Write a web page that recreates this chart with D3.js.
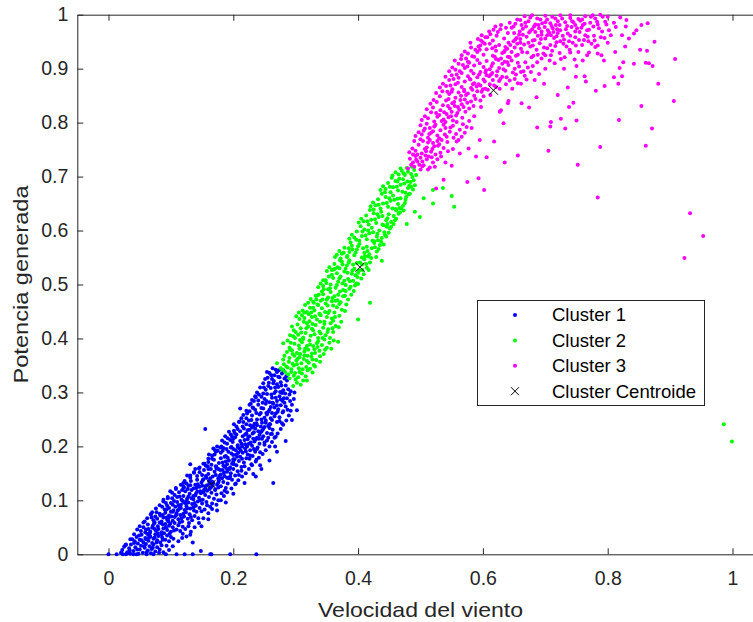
<!DOCTYPE html>
<html>
<head>
<meta charset="utf-8">
<script src="https://cdn.jsdelivr.net/npm/d3@7"></script>
<style>
  html, body { margin: 0; padding: 0; background: #fff; }
  svg { display: block; }
  text { font-family: "Liberation Sans", Arial, Helvetica, sans-serif; }
</style>
</head>
<body>
<div id="chart"></div>
<script>
// cluster 1 (blue)
const cluster1 = [
  [0,0],[.013,0],[.023,0],[.028,0],[.04,0],[.045,0],[.061,0],[.072,0],[.092,0],[.109,0],[.122,0],[.135,0],[.163,0],[.165,0],[.195,0],[.237,0],
  [.022,.008],[.025,.014],[.03,.004],[.033,.011],[.036,.018],[.04,.006],[.043,.013],[.047,.02],[.05,.009],[.052,.016],[.055,.003],[.058,.012],[.06,.019],[.063,.007],[.066,.015],[.069,.01],[.072,.018],[.075,.005],[.078,.013],[.082,.009],[.085,.017],[.03,.002],[.048,.001],[.068,.002],[.088,.004],
  [.042,.024],[.045,.032],[.05,.027],[.053,.036],[.056,.022],[.059,.03],[.062,.038],[.064,.025],[.067,.033],[.07,.021],[.072,.029],[.075,.037],[.078,.026],[.08,.034],[.083,.022],[.086,.031],[.089,.039],[.091,.027],[.094,.035],[.097,.024],[.1,.032],[.06,.028],[.074,.031],[.085,.036],[.066,.039],
  [.052,.043],[.056,.05],[.06,.046],[.063,.055],[.067,.042],[.07,.049],[.073,.057],[.076,.044],[.079,.052],[.082,.059],[.085,.041],[.088,.048],[.091,.056],[.094,.045],[.097,.053],[.1,.042],[.103,.05],[.106,.058],[.109,.046],[.112,.054],[.115,.043],[.119,.051],[.08,.047],[.092,.05],[.071,.053],[.099,.057],
  [.072,.063],[.075,.07],[.078,.066],[.082,.075],[.085,.061],[.088,.068],[.091,.077],[.094,.064],[.097,.072],[.1,.079],[.103,.062],[.106,.069],[.109,.076],[.112,.065],[.115,.073],[.118,.061],[.121,.07],[.124,.078],[.127,.066],[.13,.074],[.134,.063],[.138,.071],[.096,.067],[.108,.072],[.12,.075],[.087,.073],
  [.09,.083],[.094,.09],[.097,.086],[.1,.095],[.104,.081],[.107,.088],[.11,.097],[.113,.084],[.116,.092],[.119,.099],[.122,.082],[.125,.089],[.128,.096],[.131,.085],[.134,.093],[.137,.081],[.14,.09],[.143,.098],[.146,.086],[.15,.094],[.154,.083],[.158,.091],[.112,.091],[.124,.094],[.136,.087],[.103,.092],
  [.135,.022],[.148,.006],[.131,.036],[.118,.03],
  [.102,.104],[.106,.11],[.11,.106],[.113,.115],[.117,.101],[.12,.108],[.123,.117],[.126,.103],[.13,.112],[.133,.119],[.136,.102],[.139,.109],[.142,.116],[.145,.105],[.148,.113],[.151,.101],[.155,.11],[.158,.118],[.161,.106],[.165,.114],[.169,.103],[.173,.111],[.128,.107],[.14,.112],[.152,.115],
  [.121,.124],[.125,.131],[.128,.127],[.132,.136],[.136,.122],[.139,.129],[.142,.138],[.146,.125],[.149,.133],[.152,.139],[.155,.121],[.158,.128],[.161,.136],[.164,.124],[.168,.132],[.171,.12],[.174,.129],[.177,.137],[.18,.126],[.184,.134],[.188,.123],[.15,.127],[.162,.131],[.176,.124],[.143,.13],
  [.142,.145],[.146,.152],[.15,.147],[.153,.156],[.157,.142],[.16,.149],[.164,.158],[.167,.144],[.17,.153],[.173,.159],[.176,.141],[.18,.148],[.183,.156],[.186,.145],[.19,.153],[.193,.141],[.196,.15],[.2,.158],[.203,.146],[.207,.154],[.172,.147],[.185,.151],[.195,.144],
  [.156,.164],[.16,.171],[.165,.166],[.169,.175],[.173,.162],[.177,.169],[.18,.178],[.184,.164],[.188,.172],[.191,.179],[.195,.161],[.198,.168],[.202,.176],[.205,.165],[.209,.173],[.213,.162],[.217,.17],[.221,.178],[.19,.167],[.2,.172],[.183,.17],
  [.17,.185],[.175,.192],[.18,.188],[.184,.197],[.188,.182],[.192,.19],[.196,.198],[.2,.184],[.204,.193],[.207,.199],[.211,.181],[.215,.188],[.219,.196],[.223,.185],[.227,.193],[.231,.182],[.235,.19],[.239,.198],[.208,.188],[.22,.191],[.2,.195],
  [.19,.205],[.195,.212],[.199,.208],[.203,.217],[.207,.202],[.211,.21],[.215,.219],[.219,.204],[.223,.213],[.226,.219],[.23,.201],[.234,.209],[.238,.216],[.242,.205],[.246,.214],[.25,.203],[.254,.211],[.228,.207],[.236,.213],[.218,.212],
  [.202,.225],[.207,.232],[.211,.228],[.215,.237],[.219,.222],[.223,.23],[.227,.239],[.231,.224],[.235,.233],[.238,.239],[.242,.221],[.246,.229],[.25,.236],[.254,.225],[.258,.234],[.262,.223],[.24,.228],[.248,.232],[.23,.235],
  [.216,.245],[.221,.252],[.225,.248],[.23,.257],[.234,.242],[.238,.25],[.242,.259],[.246,.244],[.25,.253],[.254,.259],[.258,.241],[.262,.249],[.266,.256],[.27,.245],[.274,.254],[.278,.243],[.252,.248],[.26,.252],
  [.226,.265],[.231,.272],[.235,.268],[.24,.277],[.244,.262],[.248,.27],[.252,.279],[.256,.264],[.26,.273],[.264,.279],[.268,.261],[.272,.269],[.276,.276],[.28,.265],[.284,.274],[.258,.268],[.266,.272],
  [.24,.285],[.245,.292],[.25,.288],[.254,.297],[.258,.282],[.262,.29],[.266,.299],[.27,.284],[.274,.293],[.278,.299],[.282,.281],[.286,.289],[.29,.296],[.268,.29],[.276,.287],[.248,.298],
  [.252,.305],[.256,.312],[.26,.308],[.264,.317],[.268,.302],[.272,.31],[.276,.319],[.28,.304],[.284,.313],[.288,.306],[.292,.302],[.27,.315],
  [.262,.325],[.266,.332],[.27,.338],[.274,.328],[.278,.335],[.282,.326],[.268,.342],[.28,.341],[.286,.322],[.254,.338],[.272,.329],
  [.155,.232],[.131,.167],[.264,.132],[.12,.132],[.211,.27],[.302,.267],[.294,.249],[.267,.2],[.243,.165],[.236,.144],
  [.027,.017],[.034,.007],[.041,.021],[.046,.009],[.053,.026],[.057,.015],[.061,.004],[.065,.031],[.071,.012],[.077,.022],[.081,.003],[.087,.027],[.093,.016],[.098,.038],[.104,.029],[.038,.028],[.049,.035],[.059,.041],[.035,.001],[.079,.039],
  [.058,.061],[.064,.047],[.069,.068],[.074,.059],[.083,.072],[.087,.055],[.093,.083],[.096,.061],[.101,.07],[.105,.044],[.111,.081],[.114,.059],[.117,.067],[.123,.047],[.126,.085],[.129,.058],[.132,.069],[.141,.079],[.144,.067],[.077,.078],[.068,.074],[.086,.088],[.119,.038],[.128,.052],
  [.088,.101],[.095,.104],[.099,.117],[.105,.099],[.108,.123],[.114,.107],[.118,.119],[.121,.096],[.127,.121],[.133,.104],[.138,.095],[.141,.123],[.147,.1],[.153,.119],[.157,.097],[.162,.121],[.166,.094],[.171,.119],[.176,.1],[.181,.113],[.131,.128],[.116,.086],[.149,.08],[.163,.088],
  [.131,.142],[.137,.151],[.141,.124],[.145,.159],[.151,.137],[.156,.145],[.159,.163],[.163,.141],[.167,.127],[.172,.163],[.176,.133],[.179,.156],[.182,.141],[.187,.162],[.191,.131],[.194,.158],[.198,.138],[.204,.131],[.209,.147],[.213,.155],[.154,.168],[.139,.158],[.126,.146],[.186,.118],
  [.161,.185],[.166,.177],[.171,.193],[.176,.158],[.181,.2],[.186,.181],[.189,.195],[.193,.174],[.197,.187],[.201,.167],[.206,.181],[.21,.196],[.214,.177],[.218,.163],[.222,.2],[.226,.177],[.229,.167],[.233,.195],[.237,.175],[.243,.189],[.174,.2],[.168,.196],
  [.182,.211],[.187,.219],[.193,.227],[.197,.199],[.201,.241],[.205,.222],[.21,.246],[.213,.205],[.217,.233],[.221,.241],[.224,.218],[.229,.249],[.233,.226],[.237,.243],[.241,.214],[.244,.237],[.248,.219],[.252,.244],[.256,.216],[.259,.241],[.263,.231],[.268,.218],[.226,.231],[.198,.218],
  [.222,.261],[.228,.279],[.233,.284],[.237,.262],[.241,.296],[.245,.271],[.249,.309],[.253,.284],[.257,.318],[.261,.296],[.263,.281],[.267,.309],[.271,.264],[.275,.301],[.279,.284],[.283,.298],[.287,.268],[.291,.284],[.261,.332],[.265,.321],[.273,.341],[.277,.313],[.285,.33],[.255,.327],[.247,.281],[.236,.291],[.232,.271],
  [.02,.003],[.028,.018],[.035,.028],[.041,.037],[.046,.046],[.05,.052],[.056,.059],[.062,.067],[.07,.078],[.076,.085],[.082,.091],[.088,.098],[.095,.106],[.102,.114],[.108,.121],[.116,.129],[.122,.136],[.131,.146],[.137,.152],[.146,.161],
  [.152,.168],[.16,.177],[.166,.183],[.172,.19],[.179,.198],[.186,.207],[.191,.215],[.196,.222],[.201,.229],[.205,.237],[.209,.245],[.213,.252],[.216,.258],[.221,.266],[.226,.277],[.23,.286],[.235,.293],[.238,.3],[.243,.309],[.248,.317],
  [.251,.325],[.258,.336],[.263,.345],[.2,.214],[.183,.192],[.16,.158],[.12,.125],[.092,.095],[.068,.074],
  [.132,.042],[.138,.05],[.145,.058],[.152,.067],[.16,.076],[.166,.084],[.173,.092],[.18,.1],[.185,.108],[.19,.115],[.197,.122],[.203,.13],[.208,.137],[.214,.144],[.22,.15],[.225,.158],[.23,.165],[.236,.172],[.241,.179],[.247,.186],
  [.252,.193],[.258,.2],[.262,.208],[.266,.216],[.271,.224],[.276,.232],[.28,.24],[.285,.248],[.289,.257],[.292,.266],[.294,.277],[.297,.288],[.298,.3],[.284,.21],[.27,.19],[.258,.174],[.245,.158],[.232,.149],[.218,.132],[.2,.112],
  [.188,.096],[.174,.081],[.16,.065],[.149,.052],[.125,.033],[.112,.024],[.103,.015],[.097,.008],
  [.205,.185],[.212,.192],[.225,.205],[.232,.214],[.244,.226],[.256,.238],[.262,.262],[.27,.276],[.281,.289],[.253,.262],[.245,.25],[.232,.238],[.221,.224],[.214,.2],[.2,.176],[.19,.158],[.178,.145],[.166,.135],[.155,.126],[.147,.117],
  [.136,.108],[.125,.099],[.114,.088],[.103,.079],[.093,.068],[.084,.058],[.074,.047],[.064,.036],[.19,.142],[.227,.183],[.238,.195],[.25,.207],[.26,.223],[.274,.247],[.279,.263]
];

// cluster 2 (green)
const cluster2 = [
  [.296,.312],[.302,.318],[.308,.314],[.312,.322],[.29,.326],[.297,.331],[.304,.328],[.31,.335],[.316,.33],[.293,.338],[.3,.324],[.288,.333],[.306,.338],[.318,.322],
  [.276,.345],[.281,.352],[.285,.348],[.289,.357],[.293,.343],[.297,.35],[.301,.359],[.305,.345],[.309,.354],[.313,.362],[.317,.347],[.321,.355],[.325,.366],[.329,.351],[.333,.36],[.29,.364],[.298,.368],[.306,.365],[.314,.369],[.28,.361],[.302,.352],[.318,.358],
  [.286,.375],[.29,.383],[.294,.378],[.298,.39],[.302,.373],[.306,.381],[.31,.393],[.314,.376],[.318,.386],[.322,.396],[.326,.372],[.33,.38],[.334,.391],[.338,.377],[.342,.388],[.346,.398],[.35,.383],[.354,.392],[.312,.399],[.32,.379],[.328,.386],[.336,.395],[.305,.387],
  [.296,.404],[.3,.412],[.304,.407],[.308,.419],[.312,.402],[.316,.41],[.32,.422],[.324,.405],[.328,.415],[.332,.425],[.336,.401],[.34,.409],[.344,.42],[.348,.406],[.352,.417],[.356,.428],[.36,.412],[.364,.423],[.326,.418],[.338,.413],[.346,.427],[.318,.428],[.33,.408],
  [.306,.436],[.31,.443],[.314,.438],[.318,.449],[.322,.432],[.326,.44],[.33,.452],[.334,.435],[.338,.446],[.342,.456],[.346,.431],[.35,.44],[.354,.451],[.358,.437],[.362,.448],[.366,.458],[.37,.442],[.374,.453],[.34,.443],[.352,.447],[.328,.457],[.36,.433],
  [.32,.466],[.324,.473],[.328,.468],[.332,.479],[.336,.462],[.34,.47],[.344,.482],[.348,.465],[.352,.476],[.356,.486],[.36,.461],[.364,.47],[.368,.481],[.372,.467],[.376,.478],[.38,.488],[.384,.472],[.35,.472],[.362,.478],[.342,.487],[.37,.464],[.358,.469],
  [.336,.495],[.34,.502],[.344,.497],[.348,.508],[.352,.491],[.356,.5],[.36,.512],[.364,.494],[.368,.505],[.372,.515],[.376,.49],[.38,.499],[.384,.51],[.388,.496],[.392,.507],[.396,.517],[.4,.501],[.366,.499],[.378,.507],[.358,.518],[.386,.492],[.37,.511],
  [.35,.525],[.354,.532],[.358,.527],[.362,.538],[.366,.521],[.37,.53],[.374,.542],[.378,.524],[.382,.535],[.386,.545],[.39,.52],[.394,.529],[.398,.54],[.402,.526],[.406,.537],[.41,.547],[.414,.531],[.38,.529],[.392,.537],[.372,.548],[.4,.522],[.385,.541],
  [.366,.555],[.37,.562],[.374,.557],[.378,.568],[.382,.551],[.386,.56],[.39,.572],[.394,.554],[.398,.565],[.402,.575],[.406,.55],[.41,.559],[.414,.57],[.418,.556],[.422,.567],[.426,.577],[.43,.561],[.396,.559],[.408,.567],[.388,.578],[.416,.552],[.4,.571],
  [.386,.585],[.39,.592],[.394,.587],[.398,.598],[.402,.581],[.406,.59],[.41,.602],[.414,.584],[.418,.595],[.422,.605],[.426,.58],[.43,.589],[.434,.6],[.438,.586],[.442,.597],[.446,.607],[.412,.591],[.424,.597],[.404,.608],[.432,.582],[.416,.6],
  [.401,.615],[.405,.622],[.409,.617],[.413,.628],[.417,.611],[.421,.62],[.425,.632],[.429,.614],[.433,.625],[.437,.635],[.441,.61],[.445,.619],[.449,.63],[.453,.616],[.457,.627],[.461,.637],[.427,.621],[.439,.627],[.419,.638],[.447,.612],[.431,.63],
  [.42,.645],[.424,.652],[.428,.647],[.432,.658],[.436,.641],[.44,.65],[.444,.662],[.448,.644],[.452,.655],[.456,.665],[.46,.64],[.464,.649],[.468,.66],[.472,.646],[.476,.657],[.446,.651],[.458,.657],[.438,.668],[.466,.642],[.45,.66],
  [.436,.675],[.44,.682],[.444,.677],[.448,.688],[.452,.671],[.456,.68],[.46,.692],[.464,.674],[.468,.685],[.472,.695],[.476,.67],[.48,.679],[.484,.69],[.488,.676],[.462,.681],[.474,.687],[.454,.698],[.482,.683],[.466,.696],
  [.455,.702],[.46,.708],[.465,.704],[.47,.711],[.475,.703],[.48,.709],[.485,.705],[.49,.712],[.478,.716],[.468,.715],[.486,.718],
  [.52,.675],[.536,.679],[.55,.664],[.554,.644],[.499,.625],[.491,.635],[.478,.612],[.52,.65],[.505,.66],[.419,.466],[.4,.435],[.438,.544],
  [.363,.551],[.344,.508],[.314,.448],[.294,.422],[.28,.391],[.334,.479],[.291,.379],[.27,.354],[.368,.394],
  [.986,.241],[.999,.209],
  [.283,.338],[.287,.346],[.295,.353],[.299,.336],[.303,.362],[.307,.371],[.311,.343],[.315,.381],[.319,.368],[.323,.389],[.327,.361],[.331,.373],[.335,.384],[.339,.367],[.343,.401],[.347,.379],[.351,.412],[.355,.401],[.359,.419],[.292,.392],
  [.299,.401],[.303,.426],[.309,.411],[.313,.431],[.317,.419],[.321,.445],[.327,.427],[.331,.441],[.335,.463],[.339,.431],[.343,.472],[.347,.449],[.351,.461],[.355,.493],[.359,.475],[.363,.44],[.367,.471],[.371,.487],[.375,.502],[.379,.479],
  [.383,.522],[.387,.506],[.391,.526],[.395,.498],[.399,.514],[.403,.541],[.407,.527],[.411,.553],[.415,.562],[.419,.541],[.423,.581],[.427,.569],[.431,.594],[.435,.573],[.439,.611],[.443,.592],[.447,.623],[.451,.604],[.455,.641],[.459,.619],
  [.463,.659],[.467,.634],[.471,.672],[.475,.651],[.479,.691],[.483,.668],[.487,.699],[.491,.684],[.473,.706],[.463,.691],[.451,.681],[.443,.671],[.433,.648],[.425,.639],[.415,.617],[.407,.598],[.397,.583],[.391,.565],[.383,.553],[.375,.537],
  [.367,.532],[.361,.528],[.353,.515],[.345,.491],[.337,.481],[.329,.466],[.323,.457],[.315,.462],[.311,.452],[.305,.448],[.301,.441],[.297,.415],[.291,.406],[.287,.396],[.282,.368],[.279,.342],[.319,.341],[.323,.344],[.327,.337],[.331,.348],
  [.339,.357],[.345,.371],[.357,.381],[.361,.396],[.369,.421],[.373,.431],[.379,.451],[.381,.463],[.389,.481],[.393,.488],[.397,.502],[.405,.511],[.409,.519],[.413,.538],[.417,.527],[.421,.549],[.429,.551],[.433,.566],[.437,.579],[.441,.574],
  [.445,.589],[.449,.596],[.453,.607],[.457,.612],[.461,.622],[.465,.631],[.469,.641],[.473,.637],[.477,.662],[.481,.667],[.485,.681],[.489,.693],[.493,.703],[.385,.567],[.377,.559],[.371,.545],[.363,.529],[.349,.503],[.333,.472],[.325,.448],
  [.307,.397],[.295,.371]
];

// cluster 3 (magenta)
const cluster3 = [
  [.48,.715],[.485,.722],[.49,.718],[.495,.728],[.5,.713],[.505,.721],[.51,.732],[.515,.717],[.52,.726],[.483,.733],[.492,.738],[.5,.735],[.508,.739],[.518,.736],[.488,.726],[.498,.722],
  [.482,.745],[.487,.752],[.492,.748],[.497,.759],[.502,.743],[.507,.751],[.512,.763],[.517,.746],[.522,.756],[.527,.766],[.532,.744],[.537,.753],[.49,.766],[.5,.769],[.51,.754],[.52,.762],[.495,.741],[.53,.76],[.515,.768],
  [.492,.775],[.497,.782],[.502,.778],[.507,.789],[.512,.772],[.517,.781],[.522,.793],[.527,.776],[.532,.786],[.537,.796],[.542,.774],[.547,.783],[.552,.794],[.557,.779],[.5,.795],[.51,.798],[.52,.784],[.53,.771],[.54,.79],[.515,.79],[.505,.785],
  [.502,.805],[.507,.812],[.512,.808],[.517,.819],[.522,.802],[.527,.811],[.532,.823],[.537,.806],[.542,.816],[.547,.826],[.552,.804],[.557,.813],[.562,.824],[.567,.809],[.572,.82],[.51,.825],[.52,.828],[.53,.814],[.54,.801],[.55,.82],[.56,.829],[.545,.81],[.525,.818],
  [.516,.835],[.521,.842],[.526,.838],[.531,.849],[.536,.832],[.541,.841],[.546,.853],[.551,.836],[.556,.846],[.561,.856],[.566,.834],[.571,.843],[.576,.854],[.581,.839],[.586,.85],[.591,.858],[.596,.841],[.601,.849],[.525,.855],[.535,.858],[.545,.844],[.555,.831],[.565,.85],[.575,.837],[.585,.831],[.55,.857],[.57,.858],
  [.531,.865],[.536,.872],[.541,.868],[.546,.879],[.551,.862],[.556,.871],[.561,.883],[.566,.866],[.571,.876],[.576,.886],[.581,.864],[.586,.873],[.591,.884],[.596,.869],[.601,.88],[.606,.888],[.611,.871],[.616,.879],[.621,.866],[.626,.877],[.631,.885],[.54,.885],[.55,.888],[.56,.874],[.57,.861],[.58,.88],[.59,.867],[.6,.862],[.61,.886],
  [.546,.895],[.551,.902],[.556,.898],[.561,.909],[.566,.892],[.571,.901],[.576,.913],[.581,.896],[.586,.906],[.591,.916],[.596,.894],[.601,.903],[.606,.914],[.611,.899],[.616,.91],[.621,.918],[.626,.901],[.631,.909],[.636,.896],[.641,.907],[.646,.915],[.651,.9],[.656,.911],[.661,.894],[.555,.915],[.565,.918],[.575,.904],[.585,.891],[.595,.91],[.605,.897],[.615,.892],[.625,.916],[.635,.913],
  [.566,.925],[.571,.932],[.576,.928],[.581,.939],[.586,.922],[.591,.931],[.596,.943],[.601,.926],[.606,.936],[.611,.946],[.616,.924],[.621,.933],[.626,.944],[.631,.929],[.636,.94],[.641,.948],[.646,.931],[.651,.939],[.656,.926],[.661,.937],[.666,.945],[.671,.93],[.676,.941],[.681,.924],[.686,.935],[.691,.947],[.697,.928],[.703,.938],[.709,.925],[.716,.942],[.58,.948],[.6,.949],[.62,.941],[.64,.922],[.66,.948],[.68,.943],[.595,.935],[.615,.938],[.635,.933],[.655,.946],
  [.592,.955],[.598,.962],[.604,.958],[.61,.969],[.616,.952],[.622,.961],[.628,.973],[.634,.956],[.64,.966],[.646,.976],[.652,.954],[.658,.963],[.664,.974],[.67,.959],[.676,.97],[.682,.978],[.688,.961],[.694,.969],[.7,.956],[.706,.967],[.712,.975],[.718,.96],[.724,.971],[.73,.954],[.736,.965],[.742,.977],[.748,.958],[.755,.968],[.762,.953],[.77,.972],[.778,.961],[.786,.975],[.795,.957],[.62,.978],[.65,.966],[.68,.952],[.71,.979],[.74,.961],[.66,.955],[.69,.975],[.72,.966],
  [.652,.983],[.66,.99],[.668,.985],[.676,.995],[.684,.982],[.692,.991],[.7,.998],[.708,.984],[.716,.993],[.724,.999],[.732,.986],[.74,.994],[.748,.981],[.756,.989],[.764,.997],[.772,.985],[.78,.993],[.788,1],[.796,.987],[.8,.996],[.72,.988],[.7,.986],[.76,.981],[.74,.999],
  [.908,.918],[.906,.84],[.881,.872],[.875,.95],[.864,.984],[.854,.981],[.852,.935],[.863,.933],[.861,.911],[.866,.91],[.872,.905],[.854,.831],[.871,.789],[.861,.757],[.818,.805],[.788,.755],[.784,.661],[.752,.722],[.75,.804],[.732,.789],[.725,.807],[.709,.801],[.708,.793],[.687,.791],[.705,.748],[.656,.739],[.635,.726],[.633,.799],
  [.932,.632],[.953,.59],[.923,.549],[.842,.909],[.825,.912],[.817,.872],[.823,.886],[.81,.884],[.795,.868],[.781,.859],[.794,.915],[.745,.837],[.738,.829],[.72,.851],[.736,.865],[.698,.872],[.686,.847],[.674,.828],[.662,.836],[.64,.836],[.627,.82],
  [.765,.876],[.763,.886],[.749,.885],[.842,.965],[.829,.978],[.828,.941],[.812,.931],[.819,.901],[.606,.736],[.602,.675],[.575,.69],[.593,.697],[.589,.737],[.618,.765],[.595,.768],[.574,.792],[.582,.79],[.566,.774],[.558,.765],[.577,.752],[.563,.743],[.54,.726],[.55,.72],[.537,.694],[.525,.678],
  [.683,.879],[.67,.88],[.651,.881],[.656,.873],[.641,.84],[.629,.823],[.77,.93],[.78,.94],[.79,.925],[.8,.948],[.805,.962],[.81,.985],[.82,.995],[.83,.99],[.76,.915],[.75,.905],[.73,.9],[.715,.91],[.7,.9],[.68,.905],[.69,.89],[.665,.895],[.7,.925],[.725,.918],[.74,.93],
  [.488,.741],[.493,.731],[.503,.728],[.509,.747],[.513,.737],[.519,.751],[.524,.741],[.528,.757],[.534,.768],[.539,.778],[.543,.764],[.548,.791],[.553,.772],[.558,.801],[.563,.787],[.568,.797],[.504,.766],[.514,.779],[.524,.796],[.534,.803],
  [.538,.819],[.544,.831],[.549,.812],[.554,.838],[.559,.818],[.564,.842],[.569,.829],[.573,.851],[.578,.826],[.583,.861],[.588,.844],[.593,.871],[.598,.857],[.603,.876],[.608,.861],[.613,.889],[.618,.869],[.623,.895],[.628,.881],[.633,.899],
  [.638,.884],[.643,.921],[.648,.893],[.653,.924],[.658,.904],[.663,.931],[.668,.912],[.673,.948],[.678,.921],[.683,.953],[.688,.926],[.693,.955],[.698,.939],[.703,.962],[.708,.944],[.713,.968],[.718,.949],[.723,.981],[.728,.961],[.733,.973],
  [.738,.951],[.743,.988],[.748,.969],[.753,.992],[.758,.976],[.763,.983],[.768,.959],[.773,.996],[.777,.978],[.783,.987],[.791,.969],[.798,.982],[.543,.857],[.548,.869],[.553,.881],[.558,.889],[.563,.895],[.568,.907],[.573,.919],[.578,.911],
  [.583,.923],[.588,.935],[.593,.941],[.597,.952],[.603,.946],[.607,.958],[.612,.964],[.617,.972],[.624,.968],[.629,.981],[.637,.976],[.643,.985],[.649,.978],[.655,.991],[.662,.981],[.667,.997],[.673,.988],[.679,.999],[.687,.993],[.695,.984],
  [.703,.991],[.711,.996],[.717,.981],[.727,.993],[.735,.979],[.745,.986],[.751,.975],[.759,.991],[.767,.971],[.776,.999],[.784,.982],[.792,.996],[.579,.881],[.584,.871],[.594,.889],[.604,.893],[.614,.905],[.619,.922],[.629,.919],[.634,.931],
  [.639,.937],[.644,.944],[.649,.951],[.654,.957],[.659,.969],[.664,.963],[.669,.978],[.674,.967],[.679,.973],[.684,.968],[.689,.981],[.694,.963],[.699,.977],[.704,.971],[.709,.962],[.714,.957],[.719,.973],[.724,.951],[.729,.946],[.734,.941],
  [.739,.935],[.744,.948],[.749,.943],[.754,.953],[.759,.944],[.764,.962],[.769,.951],[.774,.946],[.779,.952],[.784,.943],[.789,.958],[.627,.863],[.637,.871],[.643,.878],[.647,.863],[.653,.889],[.661,.872],[.667,.887],[.672,.902],[.677,.894],
  [.687,.912],[.694,.919],[.707,.915],[.711,.933],[.723,.929],[.731,.921],[.747,.917],[.753,.931],[.767,.925],[.784,.928],[.802,.971],[.813,.977],[.823,.962],[.834,.956],[.846,.971],[.639,.912],[.622,.887],[.612,.851],[.604,.863],[.597,.829],
  [.586,.812],[.578,.803],[.571,.781],[.561,.768],[.552,.751],[.544,.747],[.533,.737],[.527,.732],[.523,.718],[.512,.713],[.503,.719]
];

const centroids = [[.165,.13],[.403,.532],[.617,.86]];

const seriesNames = ['Cluster 1', 'Cluster 2', 'Cluster 3', 'Cluster Centroide'];
const seriesColors = ['#0000ff', '#00ff00', '#ff00ff', '#000000'];
const xTicks = [0, 0.2, 0.4, 0.6, 0.8, 1];
const yTicks = [0, 0.1, 0.2, 0.3, 0.4, 0.5, 0.6, 0.7, 0.8, 0.9, 1];

const width = 753, height = 622;
const axisColor = '#262626';
const dotR = 2;

const svg = d3.select('#chart').append('svg')
  .attr('width', width)
  .attr('height', height);

svg.append('rect').attr('width', width).attr('height', height).attr('fill', '#fff');

const x = d3.scaleLinear().domain([-0.05, 1.05]).range([77.3, 763.7]);
const y = d3.scaleLinear().domain([0, 1]).range([554.3, 14.7]);

const fmt = d3.format('~g');

function styleAxis(g) {
  g.selectAll('path, line').attr('stroke', axisColor).attr('stroke-width', 1);
  g.selectAll('text')
    .attr('fill', axisColor)
    .attr('font-size', 19.5)
    .attr('font-family', '"Liberation Sans", Arial, sans-serif');
}

// box axes, ticks pointing in
svg.append('g')
  .attr('transform', `translate(0,${y(0)})`)
  .call(d3.axisBottom(x).tickValues(xTicks).tickFormat(fmt).tickSize(-6).tickSizeOuter(0).tickPadding(17))
  .call(styleAxis);

svg.append('g')
  .attr('transform', `translate(0,${y(1)})`)
  .call(d3.axisTop(x).tickValues(xTicks).tickFormat('').tickSize(-6).tickSizeOuter(0))
  .call(styleAxis);

svg.append('g')
  .attr('transform', `translate(${x(-0.05)},0)`)
  .call(d3.axisLeft(y).tickValues(yTicks).tickFormat(fmt).tickSize(-6).tickSizeOuter(0).tickPadding(9))
  .call(styleAxis);

svg.append('g')
  .attr('transform', `translate(${x(1.05)},0)`)
  .call(d3.axisRight(y).tickValues(yTicks).tickFormat('').tickSize(-6).tickSizeOuter(0))
  .call(styleAxis);

// axis titles
svg.append('text')
  .attr('x', (x(-0.05) + x(1.05)) / 2)
  .attr('y', 617)
  .attr('text-anchor', 'middle')
  .attr('font-size', 21)
  .attr('textLength', 205)
  .attr('lengthAdjust', 'spacingAndGlyphs')
  .attr('fill', axisColor)
  .text('Velocidad del viento');

svg.append('text')
  .attr('transform', `translate(28,${(y(0) + y(1)) / 2}) rotate(-90)`)
  .attr('text-anchor', 'middle')
  .attr('font-size', 21)
  .attr('textLength', 198)
  .attr('lengthAdjust', 'spacingAndGlyphs')
  .attr('fill', axisColor)
  .text('Potencia generada');

// scatter
const clusters = [cluster1, cluster2, cluster3];
clusters.forEach((pts, i) => {
  svg.append('g')
    .selectAll('circle')
    .data(pts)
    .join('circle')
    .attr('cx', d => x(d[0]))
    .attr('cy', d => y(d[1]))
    .attr('r', dotR)
    .attr('fill', seriesColors[i]);
});

function cross(g, cx, cy, s) {
  g.append('path')
    .attr('d', `M${cx - s},${cy - s}L${cx + s},${cy + s}M${cx - s},${cy + s}L${cx + s},${cy - s}`)
    .attr('stroke', '#000')
    .attr('stroke-width', 1)
    .attr('fill', 'none');
}

const cg = svg.append('g');
centroids.forEach(d => cross(cg, x(d[0]), y(d[1]), 4.5));

// legend
const legend = svg.append('g');
legend.append('rect')
  .attr('x', 477.5).attr('y', 300.5)
  .attr('width', 227).attr('height', 105)
  .attr('fill', '#fff')
  .attr('stroke', axisColor)
  .attr('stroke-width', 1);

seriesNames.forEach((name, i) => {
  const ly = 315 + i * 25.4;
  if (i < 3) {
    legend.append('circle').attr('cx', 515).attr('cy', ly).attr('r', dotR).attr('fill', seriesColors[i]);
  } else {
    cross(legend, 515, ly, 4);
  }
  legend.append('text')
    .attr('x', 552)
    .attr('y', ly)
    .attr('dy', '0.35em')
    .attr('font-size', 18.5)
    .attr('fill', '#000')
    .text(name);
});
</script>
</body>
</html>
